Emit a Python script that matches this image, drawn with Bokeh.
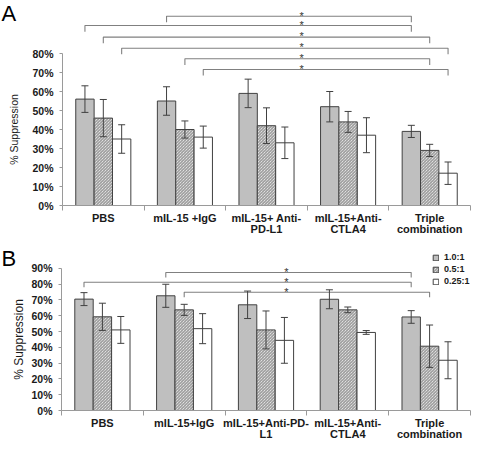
from bokeh.plotting import figure
from bokeh.models import (ColumnDataSource, Whisker, TeeHead, FixedTicker,
                          PrintfTickFormatter, Label, Legend, LegendItem, Range1d)
from bokeh.layouts import column
from bokeh.embed import file_html
from bokeh.resources import INLINE
from bokeh.core.properties import value

FONT = "Liberation Sans"

# ---------------- data ----------------
ratios = ["1.0:1", "0.5:1", "0.25:1"]

labels_A = ["PBS", "mIL-15 +IgG", "mIL-15+ Anti-\nPD-L1", "mIL-15+Anti-\nCTLA4", "Triple\ncombination"]
labels_B = ["PBS", "mIL-15+IgG", "mIL-15+Anti-PD-\nL1", "mIL-15+Anti-\nCTLA4", "Triple\ncombination"]

A_r1 = [56, 55, 59, 52, 39]
A_r2 = [46, 40, 42, 44, 29]
A_r3 = [35, 36, 33, 37, 17]
A_r1_err = [7, 7.5, 7.5, 8, 3.2]
A_r2_err = [9.8, 4.5, 9.4, 5.5, 3.2]
A_r3_err = [7.5, 5.8, 8.3, 9.2, 5.9]

B_r1 = [70.5, 72.6, 66.9, 70.4, 59.2]
B_r2 = [59.3, 63.7, 51.0, 63.7, 40.7]
B_r3 = [51.0, 51.8, 44.4, 49.4, 31.8]
B_r1_err = [4.1, 7.3, 8.7, 6.0, 4.0]
B_r2_err = [8.6, 3.5, 12.0, 1.8, 13.4]
B_r3_err = [8.5, 9.5, 14.5, 1.2, 11.7]

# significance brackets: from group, to group, which ratio bar, height (%)
A_sig_from = [1, 0, 0, 0, 1, 1]
A_sig_to = [4, 4, 4, 4, 4, 4]
A_sig_bar = [0, 0, 1, 2, 1, 2]
A_sig_level = [99.6, 94.7, 88.6, 82.8, 77.2, 71.6]

B_sig_from = [1, 0, 1]
B_sig_to = [4, 4, 4]
B_sig_bar = [0, 0, 1]
B_sig_level = [87.3, 81.2, 74.8]

A_yticks = [0, 10, 20, 30, 40, 50, 60, 70, 80]
B_yticks = [0, 10, 20, 30, 40, 50, 60, 70, 80, 90]

# ---------------- styles ----------------
BAR_W = 0.225
EDGE = "#404040"
AXIS = "#9a9a9a"
TXT = "#1a1a1a"
bar_styles = [
    dict(fill_color="#bfbfbf"),
    dict(fill_color="white", hatch_pattern="\\", hatch_color="#666666",
         hatch_scale=3.0, hatch_weight=0.8),
    dict(fill_color="white"),
]


def make_panel(letter, labels, vals, errs, sig_from, sig_to, sig_bar, sig_level,
               yticks, height, x0_px, cat_px, y0_px, pct_px, ylabel_size,
               ylabel_standoff, star_x, tick_len, letter_dy, legend_loc=None):
    W = 472
    x_start = -x0_px / cat_px
    x_end = (W - x0_px) / cat_px
    y_end = y0_px / pct_px
    y_start = -(height - y0_px) / pct_px
    p = figure(width=W, height=height, output_backend="svg", toolbar_location=None,
               x_range=Range1d(x_start, x_end), y_range=Range1d(y_start, y_end),
               min_border=0, min_border_left=0, min_border_right=0,
               min_border_top=0, min_border_bottom=0)
    p.outline_line_color = None
    p.xgrid.visible = False
    p.ygrid.visible = False
    p.background_fill_color = "white"
    p.border_fill_color = "white"

    renderers = []
    for j in range(3):
        xs = [i + 0.5 + (j - 1) * BAR_W for i in range(5)]
        r = p.vbar(x=xs, top=vals[j], bottom=0, width=BAR_W,
                   line_color=EDGE, line_width=1, **bar_styles[j])
        renderers.append(r)
        src = ColumnDataSource(dict(x=xs,
                                    upper=[v + e for v, e in zip(vals[j], errs[j])],
                                    lower=[v - e for v, e in zip(vals[j], errs[j])]))
        w = Whisker(source=src, base="x", upper="upper", lower="lower",
                    dimension="height", line_color=EDGE, line_width=1, level="annotation",
                    upper_head=TeeHead(size=7, line_color=EDGE, line_width=1),
                    lower_head=TeeHead(size=7, line_color=EDGE, line_width=1))
        p.add_layout(w)

    # significance brackets
    bxs, bys = [], []
    for f, t, b, lv in zip(sig_from, sig_to, sig_bar, sig_level):
        x1 = f + 0.5 + (b - 1) * BAR_W
        x2 = t + 0.5 + (b - 1) * BAR_W
        bxs.append([x1, x1, x2, x2])
        bys.append([lv - tick_len, lv, lv, lv - tick_len])
    p.multi_line(xs=bxs, ys=bys, line_color="#808080", line_width=1.1)
    p.text(x=[star_x] * len(sig_level), y=[lv + 0.4 for lv in sig_level],
           text=["*"] * len(sig_level), text_font=value(FONT), text_font_size="11px",
           text_align="center", text_baseline="alphabetic", text_color="#333333")

    # x axis (fixed at y = 0)
    xa = p.xaxis[0]
    xa.fixed_location = 0
    xa.bounds = (0, 5)
    xa.ticker = FixedTicker(ticks=[i + 0.5 for i in range(5)], minor_ticks=[0, 1, 2, 3, 4, 5])
    xa.major_label_overrides = {i + 0.5: lab for i, lab in enumerate(labels)}
    xa.major_tick_out = 0
    xa.major_tick_in = 0
    xa.minor_tick_out = 5
    xa.minor_tick_in = 0
    xa.minor_tick_line_color = AXIS
    xa.axis_line_color = AXIS
    xa.major_label_text_font = FONT
    xa.major_label_text_font_size = "11px"
    xa.major_label_text_font_style = "bold"
    xa.major_label_text_color = TXT
    xa.major_label_text_line_height = 0.95
    xa.major_label_standoff = 1

    # y axis (fixed at x = 0)
    ya = p.yaxis[0]
    ya.fixed_location = 0
    ya.ticker = FixedTicker(ticks=yticks, minor_ticks=[])
    ya.formatter = PrintfTickFormatter(format="%d%%")
    ya.bounds = (0, yticks[-1])
    ya.major_tick_out = 3
    ya.major_tick_in = 0
    ya.minor_tick_out = 0
    ya.minor_tick_in = 0
    ya.axis_line_color = AXIS
    ya.major_tick_line_color = AXIS
    ya.major_label_text_font = FONT
    ya.major_label_text_font_size = "10.5px"
    ya.major_label_text_font_style = "bold"
    ya.major_label_text_color = TXT
    ya.major_label_standoff = 6
    ya.axis_label = "% Suppression"
    ya.axis_label_text_font = FONT
    ya.axis_label_text_font_size = ylabel_size
    ya.axis_label_text_font_style = "normal"
    ya.axis_label_text_color = TXT
    ya.axis_label_standoff = ylabel_standoff

    p.add_layout(Label(x=x_start + 1.0 / cat_px, y=y_end - letter_dy / pct_px, text=letter,
                       text_font=FONT, text_font_size="22px", text_baseline="top",
                       text_align="left", text_color="black"))

    if legend_loc is not None:
        items = [LegendItem(label=r_, renderers=[rr]) for r_, rr in zip(ratios, renderers)]
        lg = Legend(items=items, location=legend_loc, orientation="vertical",
                    glyph_width=7, glyph_height=7, label_standoff=5, label_height=12,
                    spacing=0, padding=0, margin=0, border_line_alpha=0,
                    background_fill_alpha=0, label_text_font=FONT,
                    label_text_font_size="9px", label_text_font_style="bold",
                    label_text_color=TXT)
        p.add_layout(lg)
    return p


pA = make_panel("A", labels_A, [A_r1, A_r2, A_r3], [A_r1_err, A_r2_err, A_r3_err],
                A_sig_from, A_sig_to, A_sig_bar, A_sig_level, A_yticks,
                height=235, x0_px=62, cat_px=81.6, y0_px=205, pct_px=1.9,
                ylabel_size="10.5px", ylabel_standoff=9, star_x=2.93, tick_len=3.2,
                letter_dy=0)

pB = make_panel("B", labels_B, [B_r1, B_r2, B_r3], [B_r1_err, B_r2_err, B_r3_err],
                B_sig_from, B_sig_to, B_sig_bar, B_sig_level, B_yticks,
                height=205, x0_px=61, cat_px=81.8, y0_px=175, pct_px=1.58,
                ylabel_size="12px", ylabel_standoff=2, star_x=2.75, tick_len=3.2,
                letter_dy=10, legend_loc=(432, 153))

layout = column(pA, pB, spacing=0)
open("out.html", "w").write(file_html(layout, INLINE))
